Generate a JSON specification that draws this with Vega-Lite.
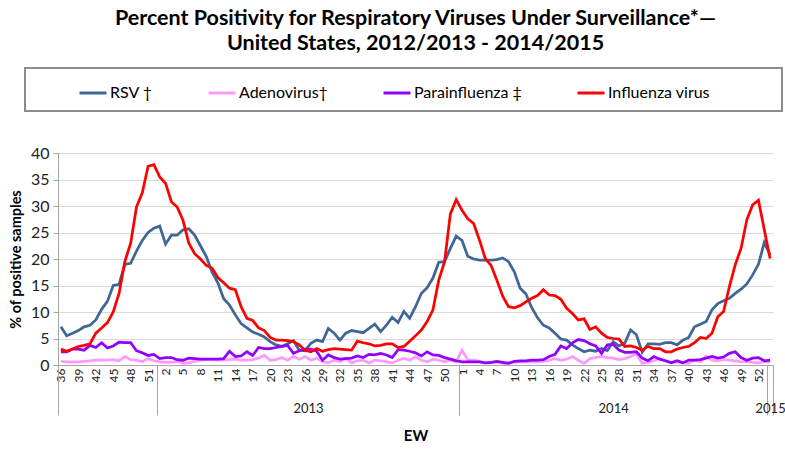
{
"$schema": "https://vega.github.io/schema/vega-lite/v6.json",
"width": 715,
"height": 212,
"autosize": {"type": "none"},
"padding": {"left": 58, "top": 153, "right": 12, "bottom": 85},
"background": "white",
"title": {"text": ["Percent Positivity for Respiratory Viruses Under Surveillance*—", "United States, 2012/2013 - 2014/2015"], "font": "Lato", "fontSize": 21.5, "fontWeight": "bold", "lineHeight": 25, "color": "black", "offset": 13, "anchor": "middle"},
"datasets": {
"w": [
{"i":0,"RSV †":7.2,"Adenovirus†":0.7,"Parainfluenza ‡":2.5,"Influenza virus":3.0},
{"i":1,"RSV †":5.5,"Adenovirus†":0.6,"Parainfluenza ‡":2.5,"Influenza virus":2.6},
{"i":2,"RSV †":6.0,"Adenovirus†":0.6,"Parainfluenza ‡":3.0,"Influenza virus":3.0},
{"i":3,"RSV †":6.5,"Adenovirus†":0.6,"Parainfluenza ‡":3.0,"Influenza virus":3.5},
{"i":4,"RSV †":7.2,"Adenovirus†":0.7,"Parainfluenza ‡":2.8,"Influenza virus":3.7},
{"i":5,"RSV †":7.5,"Adenovirus†":0.8,"Parainfluenza ‡":3.7,"Influenza virus":4.0},
{"i":6,"RSV †":8.5,"Adenovirus†":0.9,"Parainfluenza ‡":3.3,"Influenza virus":6.0},
{"i":7,"RSV †":10.5,"Adenovirus†":0.9,"Parainfluenza ‡":4.2,"Influenza virus":7.0},
{"i":8,"RSV †":12.0,"Adenovirus†":0.9,"Parainfluenza ‡":3.2,"Influenza virus":8.0},
{"i":9,"RSV †":15.0,"Adenovirus†":1.0,"Parainfluenza ‡":3.6,"Influenza virus":10.0},
{"i":10,"RSV †":15.2,"Adenovirus†":0.8,"Parainfluenza ‡":4.3,"Influenza virus":13.5},
{"i":11,"RSV †":19.0,"Adenovirus†":1.6,"Parainfluenza ‡":4.2,"Influenza virus":19.5},
{"i":12,"RSV †":19.2,"Adenovirus†":1.0,"Parainfluenza ‡":4.2,"Influenza virus":23.0},
{"i":13,"RSV †":21.5,"Adenovirus†":0.9,"Parainfluenza ‡":2.7,"Influenza virus":29.8},
{"i":14,"RSV †":23.5,"Adenovirus†":0.6,"Parainfluenza ‡":2.3,"Influenza virus":32.5},
{"i":15,"RSV †":25.0,"Adenovirus†":1.2,"Parainfluenza ‡":1.8,"Influenza virus":37.5},
{"i":16,"RSV †":25.8,"Adenovirus†":0.8,"Parainfluenza ‡":2.0,"Influenza virus":37.8},
{"i":17,"RSV †":26.2,"Adenovirus†":0.6,"Parainfluenza ‡":1.2,"Influenza virus":35.5},
{"i":18,"RSV †":22.8,"Adenovirus†":0.5,"Parainfluenza ‡":1.4,"Influenza virus":34.3},
{"i":19,"RSV †":24.5,"Adenovirus†":0.5,"Parainfluenza ‡":1.4,"Influenza virus":30.8},
{"i":20,"RSV †":24.5,"Adenovirus†":0.7,"Parainfluenza ‡":1.0,"Influenza virus":29.8},
{"i":21,"RSV †":25.5,"Adenovirus†":0.3,"Parainfluenza ‡":0.9,"Influenza virus":27.3},
{"i":22,"RSV †":25.7,"Adenovirus†":0.4,"Parainfluenza ‡":1.3,"Influenza virus":23.0},
{"i":23,"RSV †":24.5,"Adenovirus†":0.7,"Parainfluenza ‡":1.2,"Influenza virus":21.0},
{"i":24,"RSV †":22.5,"Adenovirus†":0.9,"Parainfluenza ‡":1.1,"Influenza virus":20.0},
{"i":25,"RSV †":20.5,"Adenovirus†":1.0,"Parainfluenza ‡":1.1,"Influenza virus":18.8},
{"i":26,"RSV †":17.5,"Adenovirus†":1.0,"Parainfluenza ‡":1.1,"Influenza virus":18.3},
{"i":27,"RSV †":15.5,"Adenovirus†":0.9,"Parainfluenza ‡":1.1,"Influenza virus":16.5},
{"i":28,"RSV †":12.5,"Adenovirus†":0.9,"Parainfluenza ‡":1.2,"Influenza virus":15.5},
{"i":29,"RSV †":11.3,"Adenovirus†":1.0,"Parainfluenza ‡":2.6,"Influenza virus":14.5},
{"i":30,"RSV †":9.5,"Adenovirus†":1.1,"Parainfluenza ‡":1.6,"Influenza virus":14.2},
{"i":31,"RSV †":7.8,"Adenovirus†":0.9,"Parainfluenza ‡":1.7,"Influenza virus":11.0},
{"i":32,"RSV †":7.0,"Adenovirus†":0.9,"Parainfluenza ‡":2.5,"Influenza virus":8.8},
{"i":33,"RSV †":6.2,"Adenovirus†":1.0,"Parainfluenza ‡":1.8,"Influenza virus":8.4},
{"i":34,"RSV †":5.8,"Adenovirus†":1.3,"Parainfluenza ‡":3.3,"Influenza virus":7.0},
{"i":35,"RSV †":5.3,"Adenovirus†":1.8,"Parainfluenza ‡":3.1,"Influenza virus":6.5},
{"i":36,"RSV †":4.4,"Adenovirus†":0.9,"Parainfluenza ‡":3.1,"Influenza virus":5.2},
{"i":37,"RSV †":3.8,"Adenovirus†":1.0,"Parainfluenza ‡":3.3,"Influenza virus":4.7},
{"i":38,"RSV †":3.5,"Adenovirus†":1.4,"Parainfluenza ‡":3.5,"Influenza virus":4.7},
{"i":39,"RSV †":4.0,"Adenovirus†":0.9,"Parainfluenza ‡":3.7,"Influenza virus":4.6},
{"i":40,"RSV †":4.6,"Adenovirus†":1.6,"Parainfluenza ‡":2.2,"Influenza virus":4.4},
{"i":41,"RSV †":2.8,"Adenovirus†":1.1,"Parainfluenza ‡":2.7,"Influenza virus":3.8},
{"i":42,"RSV †":2.7,"Adenovirus†":1.6,"Parainfluenza ‡":3.0,"Influenza virus":2.8},
{"i":43,"RSV †":4.1,"Adenovirus†":0.9,"Parainfluenza ‡":3.0,"Influenza virus":2.5},
{"i":44,"RSV †":4.7,"Adenovirus†":1.3,"Parainfluenza ‡":2.6,"Influenza virus":3.1},
{"i":45,"RSV †":4.4,"Adenovirus†":0.6,"Parainfluenza ‡":0.9,"Influenza virus":2.6},
{"i":46,"RSV †":6.9,"Adenovirus†":0.4,"Parainfluenza ‡":1.9,"Influenza virus":2.9},
{"i":47,"RSV †":6.0,"Adenovirus†":0.9,"Parainfluenza ‡":1.4,"Influenza virus":3.1},
{"i":48,"RSV †":4.7,"Adenovirus†":0.6,"Parainfluenza ‡":1.1,"Influenza virus":3.0},
{"i":49,"RSV †":6.0,"Adenovirus†":1.3,"Parainfluenza ‡":1.2,"Influenza virus":2.9},
{"i":50,"RSV †":6.5,"Adenovirus†":0.4,"Parainfluenza ‡":1.3,"Influenza virus":2.8},
{"i":51,"RSV †":6.3,"Adenovirus†":0.8,"Parainfluenza ‡":1.7,"Influenza virus":4.5},
{"i":52,"RSV †":6.1,"Adenovirus†":0.9,"Parainfluenza ‡":1.4,"Influenza virus":4.2},
{"i":53,"RSV †":6.9,"Adenovirus†":0.4,"Parainfluenza ‡":2.0,"Influenza virus":4.0},
{"i":54,"RSV †":7.7,"Adenovirus†":0.9,"Parainfluenza ‡":1.9,"Influenza virus":3.6},
{"i":55,"RSV †":6.3,"Adenovirus†":0.8,"Parainfluenza ‡":2.2,"Influenza virus":3.7},
{"i":56,"RSV †":7.5,"Adenovirus†":0.6,"Parainfluenza ‡":1.9,"Influenza virus":4.0},
{"i":57,"RSV †":9.0,"Adenovirus†":0.4,"Parainfluenza ‡":1.4,"Influenza virus":4.0},
{"i":58,"RSV †":8.0,"Adenovirus†":0.9,"Parainfluenza ‡":2.9,"Influenza virus":3.3},
{"i":59,"RSV †":10.1,"Adenovirus†":1.3,"Parainfluenza ‡":2.8,"Influenza virus":3.5},
{"i":60,"RSV †":8.8,"Adenovirus†":0.9,"Parainfluenza ‡":2.6,"Influenza virus":4.5},
{"i":61,"RSV †":11.0,"Adenovirus†":1.6,"Parainfluenza ‡":2.3,"Influenza virus":5.5},
{"i":62,"RSV †":13.5,"Adenovirus†":0.9,"Parainfluenza ‡":1.7,"Influenza virus":6.6},
{"i":63,"RSV †":14.6,"Adenovirus†":0.6,"Parainfluenza ‡":2.5,"Influenza virus":8.2},
{"i":64,"RSV †":16.4,"Adenovirus†":1.1,"Parainfluenza ‡":1.9,"Influenza virus":10.4},
{"i":65,"RSV †":19.4,"Adenovirus†":0.9,"Parainfluenza ‡":1.8,"Influenza virus":16.0},
{"i":66,"RSV †":19.5,"Adenovirus†":0.6,"Parainfluenza ‡":1.4,"Influenza virus":19.5},
{"i":67,"RSV †":22.0,"Adenovirus†":0.9,"Parainfluenza ‡":1.1,"Influenza virus":28.5},
{"i":68,"RSV †":24.3,"Adenovirus†":0.6,"Parainfluenza ‡":0.8,"Influenza virus":31.2},
{"i":69,"RSV †":23.5,"Adenovirus†":2.8,"Parainfluenza ‡":0.6,"Influenza virus":29.2},
{"i":70,"RSV †":20.5,"Adenovirus†":0.9,"Parainfluenza ‡":0.6,"Influenza virus":27.6},
{"i":71,"RSV †":20.0,"Adenovirus†":0.9,"Parainfluenza ‡":0.6,"Influenza virus":26.7},
{"i":72,"RSV †":19.8,"Adenovirus†":0.7,"Parainfluenza ‡":0.6,"Influenza virus":23.6},
{"i":73,"RSV †":19.8,"Adenovirus†":0.4,"Parainfluenza ‡":0.4,"Influenza virus":20.1},
{"i":74,"RSV †":19.8,"Adenovirus†":0.4,"Parainfluenza ‡":0.5,"Influenza virus":18.8},
{"i":75,"RSV †":19.9,"Adenovirus†":0.6,"Parainfluenza ‡":0.7,"Influenza virus":16.0},
{"i":76,"RSV †":20.2,"Adenovirus†":0.3,"Parainfluenza ‡":0.5,"Influenza virus":13.0},
{"i":77,"RSV †":19.5,"Adenovirus†":0.4,"Parainfluenza ‡":0.3,"Influenza virus":11.0},
{"i":78,"RSV †":17.6,"Adenovirus†":0.5,"Parainfluenza ‡":0.7,"Influenza virus":10.8},
{"i":79,"RSV †":14.5,"Adenovirus†":0.6,"Parainfluenza ‡":0.8,"Influenza virus":11.2},
{"i":80,"RSV †":13.4,"Adenovirus†":0.6,"Parainfluenza ‡":0.8,"Influenza virus":11.9},
{"i":81,"RSV †":10.8,"Adenovirus†":0.6,"Parainfluenza ‡":0.9,"Influenza virus":12.6},
{"i":82,"RSV †":8.9,"Adenovirus†":0.6,"Parainfluenza ‡":0.9,"Influenza virus":13.1},
{"i":83,"RSV †":7.5,"Adenovirus†":0.7,"Parainfluenza ‡":1.0,"Influenza virus":14.2},
{"i":84,"RSV †":7.0,"Adenovirus†":0.9,"Parainfluenza ‡":1.6,"Influenza virus":13.2},
{"i":85,"RSV †":6.0,"Adenovirus†":1.2,"Parainfluenza ‡":2.0,"Influenza virus":13.1},
{"i":86,"RSV †":4.9,"Adenovirus†":0.9,"Parainfluenza ‡":3.6,"Influenza virus":12.4},
{"i":87,"RSV †":4.7,"Adenovirus†":1.1,"Parainfluenza ‡":3.1,"Influenza virus":10.7},
{"i":88,"RSV †":3.8,"Adenovirus†":1.6,"Parainfluenza ‡":4.2,"Influenza virus":9.7},
{"i":89,"RSV †":3.1,"Adenovirus†":0.9,"Parainfluenza ‡":4.8,"Influenza virus":8.5},
{"i":90,"RSV †":2.5,"Adenovirus†":0.3,"Parainfluenza ‡":4.6,"Influenza virus":8.7},
{"i":91,"RSV †":2.8,"Adenovirus†":1.2,"Parainfluenza ‡":4.0,"Influenza virus":6.7},
{"i":92,"RSV †":2.6,"Adenovirus†":1.4,"Parainfluenza ‡":3.6,"Influenza virus":7.2},
{"i":93,"RSV †":3.1,"Adenovirus†":1.6,"Parainfluenza ‡":2.2,"Influenza virus":6.0},
{"i":94,"RSV †":2.7,"Adenovirus†":1.4,"Parainfluenza ‡":3.8,"Influenza virus":5.2},
{"i":95,"RSV †":4.4,"Adenovirus†":1.3,"Parainfluenza ‡":3.9,"Influenza virus":5.0},
{"i":96,"RSV †":3.6,"Adenovirus†":1.0,"Parainfluenza ‡":2.8,"Influenza virus":4.9},
{"i":97,"RSV †":4.1,"Adenovirus†":1.2,"Parainfluenza ‡":2.4,"Influenza virus":3.5},
{"i":98,"RSV †":6.6,"Adenovirus†":1.6,"Parainfluenza ‡":2.4,"Influenza virus":3.6},
{"i":99,"RSV †":5.7,"Adenovirus†":2.1,"Parainfluenza ‡":2.5,"Influenza virus":3.3},
{"i":100,"RSV †":2.4,"Adenovirus†":0.3,"Parainfluenza ‡":1.3,"Influenza virus":2.8},
{"i":101,"RSV †":4.0,"Adenovirus†":0.5,"Parainfluenza ‡":0.8,"Influenza virus":3.5},
{"i":102,"RSV †":4.0,"Adenovirus†":0.8,"Parainfluenza ‡":1.6,"Influenza virus":3.1},
{"i":103,"RSV †":3.9,"Adenovirus†":1.2,"Parainfluenza ‡":1.1,"Influenza virus":3.1},
{"i":104,"RSV †":4.2,"Adenovirus†":0.8,"Parainfluenza ‡":0.8,"Influenza virus":2.5},
{"i":105,"RSV †":4.2,"Adenovirus†":0.5,"Parainfluenza ‡":0.4,"Influenza virus":2.5},
{"i":106,"RSV †":3.8,"Adenovirus†":0.6,"Parainfluenza ‡":0.8,"Influenza virus":3.0},
{"i":107,"RSV †":4.7,"Adenovirus†":0.4,"Parainfluenza ‡":0.4,"Influenza virus":3.3},
{"i":108,"RSV †":5.2,"Adenovirus†":0.3,"Parainfluenza ‡":0.9,"Influenza virus":3.5},
{"i":109,"RSV †":7.2,"Adenovirus†":0.9,"Parainfluenza ‡":0.9,"Influenza virus":4.2},
{"i":110,"RSV †":7.7,"Adenovirus†":0.6,"Parainfluenza ‡":1.0,"Influenza virus":5.2},
{"i":111,"RSV †":8.2,"Adenovirus†":1.7,"Parainfluenza ‡":1.3,"Influenza virus":5.0},
{"i":112,"RSV †":10.4,"Adenovirus†":0.9,"Parainfluenza ‡":1.6,"Influenza virus":6.0},
{"i":113,"RSV †":11.6,"Adenovirus†":0.8,"Parainfluenza ‡":1.3,"Influenza virus":9.1},
{"i":114,"RSV †":12.1,"Adenovirus†":1.0,"Parainfluenza ‡":1.5,"Influenza virus":10.1},
{"i":115,"RSV †":12.6,"Adenovirus†":0.9,"Parainfluenza ‡":2.2,"Influenza virus":14.8},
{"i":116,"RSV †":13.5,"Adenovirus†":0.8,"Parainfluenza ‡":2.5,"Influenza virus":18.9},
{"i":117,"RSV †":14.3,"Adenovirus†":0.6,"Parainfluenza ‡":1.4,"Influenza virus":22.0},
{"i":118,"RSV †":15.3,"Adenovirus†":0.7,"Parainfluenza ‡":0.9,"Influenza virus":27.4},
{"i":119,"RSV †":17.0,"Adenovirus†":0.5,"Parainfluenza ‡":1.3,"Influenza virus":30.2},
{"i":120,"RSV †":19.0,"Adenovirus†":0.4,"Parainfluenza ‡":1.4,"Influenza virus":31.1},
{"i":121,"RSV †":23.1,"Adenovirus†":0.6,"Parainfluenza ‡":0.8,"Influenza virus":25.5},
{"i":122,"RSV †":20.8,"Adenovirus†":0.6,"Parainfluenza ‡":0.9,"Influenza virus":20.1}
],
"sep": [{"i":-0.5},{"i":16.5},{"i":68.5},{"i":121.5},{"i":122.5}],
"yrs": [{"i":42.5,"year":"2013"},{"i":95,"year":"2014"},{"i":122,"year":"2015"}]
},
"layer": [
{
"data": {"name": "w"},
"transform": [{"fold": ["RSV †", "Adenovirus†", "Parainfluenza ‡", "Influenza virus"], "as": ["series", "value"]}],
"mark": {"type": "line", "strokeWidth": 2.75},
"encoding": {
"x": {"field": "i", "type": "quantitative", "scale": {"domain": [-0.5, 122.5], "nice": false, "zero": false},
"axis": {"orient": "bottom", "values": [0,3,6,9,12,15,18,21,24,27,30,33,36,39,42,45,48,51,54,57,60,63,66,69,72,75,78,81,84,87,90,93,96,99,102,105,108,111,114,117,120],
"labelExpr": "datum.value < 17 ? datum.value + 36 : datum.value < 69 ? datum.value - 16 : datum.value < 122 ? datum.value - 68 : datum.value - 121",
"labelAngle": 270, "labelFontSize": 12, "labelColor": "#222222", "labelPadding": 3, "ticks": false, "grid": false,
"domainColor": "#A6A6A6", "title": "EW", "titleFontSize": 15, "titleFontWeight": "bold", "titleColor": "black", "titlePadding": 47}},
"y": {"field": "value", "type": "quantitative", "scale": {"domain": [0, 40], "nice": false},
"axis": {"values": [0,5,10,15,20,25,30,35,40], "labelFontSize": 16, "labelColor": "#222222", "labelPadding": 4, "tickSize": 5, "tickColor": "#A6A6A6", "domainColor": "#A6A6A6", "grid": true, "gridColor": "#D9D9D9", "title": "% of positive samples", "titleFontSize": 14.5, "titleFontWeight": "bold", "titleColor": "black", "titlePadding": 7}},
"color": {"field": "series", "type": "nominal",
"scale": {"domain": ["RSV †", "Adenovirus†", "Parainfluenza ‡", "Influenza virus"], "range": ["#3E6697", "#FF99FF", "#9200FF", "#FF0000"]},
"legend": {"orient": "none", "legendX": -33, "legendY": -85, "direction": "horizontal", "title": " ", "titleOrient": "left", "titlePadding": 43, "padding": 10, "strokeColor": "#8C8C8C", "symbolType": "stroke", "symbolSize": 729, "symbolStrokeWidth": 3, "labelFontSize": 16, "labelColor": "black", "labelOffset": 2, "columnPadding": 49, "labelLimit": 400,
"labelExpr": "datum.label == 'Influenza virus' ? 'Influenza virus               \u200b' : datum.label",
"encode": {"legend": {"update": {"strokeWidth": {"value": 2}}}}}}
}
},
{
"data": {"name": "sep"},
"mark": {"type": "point", "opacity": 0},
"encoding": {
"x": {"field": "i", "type": "quantitative", "scale": {"domain": [-0.5, 122.5], "nice": false, "zero": false},
"axis": {"orient": "bottom", "values": [-0.5, 16.5, 68.5, 121.5, 122.5], "labels": false, "ticks": true, "tickSize": 50, "tickColor": "#A6A6A6", "tickWidth": 1, "domain": false, "grid": false, "title": null}}
}
},
{
"data": {"name": "yrs"},
"mark": {"type": "point", "opacity": 0},
"encoding": {
"x": {"field": "i", "type": "quantitative", "scale": {"domain": [-0.5, 122.5], "nice": false, "zero": false},
"axis": {"orient": "bottom", "values": [42.5, 95, 122], "labelExpr": "datum.value < 50 ? '2013' : datum.value < 100 ? '2014' : '2015'", "labelAngle": 0, "labelAlign": "center", "labelFontSize": 13, "labelColor": "#222222", "labelPadding": 37, "ticks": false, "domain": false, "grid": false, "title": null}}
}
}
],
"resolve": {"axis": {"x": "independent"}},
"config": {
"font": "Lato",
"view": {"stroke": null},
"axis": {"labelFlush": false, "labelOverlap": false, "labelBound": false}
}
}
